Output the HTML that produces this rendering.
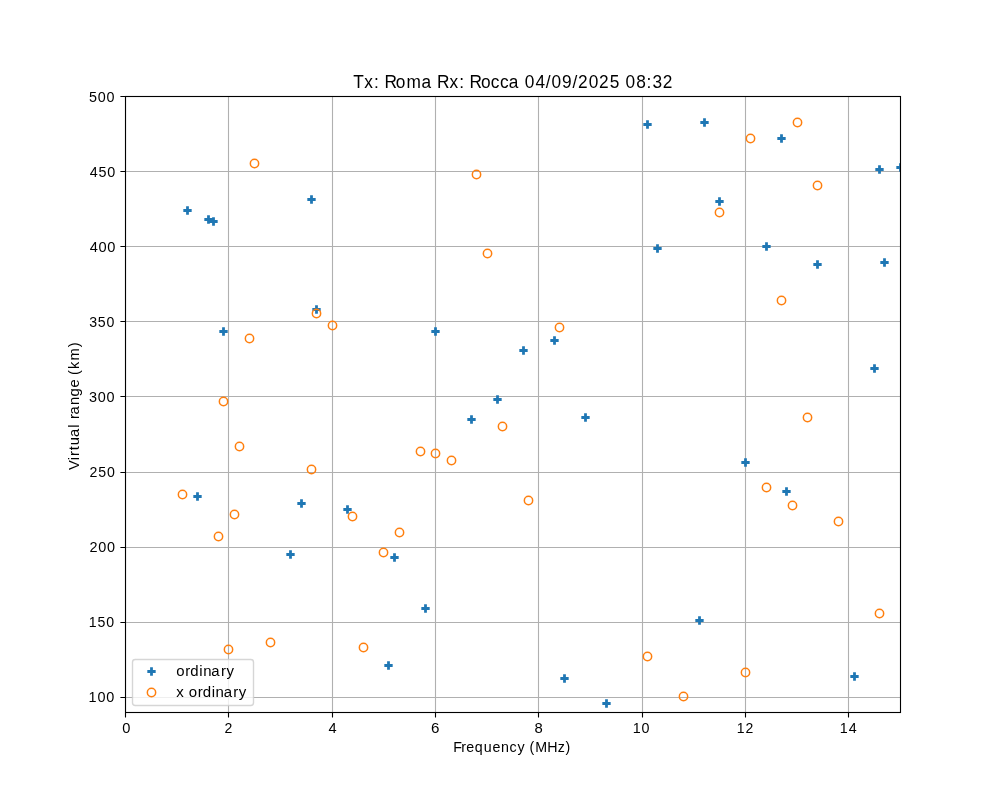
<!DOCTYPE html><html><head><meta charset="utf-8"><style>html,body{margin:0;padding:0;background:#fff;overflow:hidden}svg{display:block;will-change:transform}</style></head><body>
<svg width="1000" height="800" viewBox="0 0 1000 800" font-family='"Liberation Sans", sans-serif' fill="#000">
<rect x="0" y="0" width="1000" height="800" fill="#fff"/>
<defs><clipPath id="ax"><rect x="125.0" y="96.0" width="775.0" height="616.0"/></clipPath></defs>
<path d="M125.5,96.0V712.0M228.5,96.0V712.0M332.5,96.0V712.0M435.5,96.0V712.0M538.5,96.0V712.0M642.5,96.0V712.0M745.5,96.0V712.0M848.5,96.0V712.0M125.0,697.5H900.0M125.0,622.5H900.0M125.0,547.5H900.0M125.0,472.5H900.0M125.0,396.5H900.0M125.0,321.5H900.0M125.0,246.5H900.0M125.0,171.5H900.0M125.0,96.5H900.0" stroke="#b0b0b0" stroke-width="1.11" fill="none" clip-path="url(#ax)"/>
<g clip-path="url(#ax)"><path d="M186.11,206.33 L188.89,206.33 L188.89,209.11 L191.67,209.11 L191.67,211.89 L188.89,211.89 L188.89,214.67 L186.11,214.67 L186.11,211.89 L183.33,211.89 L183.33,209.11 L186.11,209.11ZM207.11,215.33 L209.89,215.33 L209.89,218.11 L212.67,218.11 L212.67,220.89 L209.89,220.89 L209.89,223.67 L207.11,223.67 L207.11,220.89 L204.33,220.89 L204.33,218.11 L207.11,218.11ZM212.11,217.33 L214.89,217.33 L214.89,220.11 L217.67,220.11 L217.67,222.89 L214.89,222.89 L214.89,225.67 L212.11,225.67 L212.11,222.89 L209.33,222.89 L209.33,220.11 L212.11,220.11ZM310.11,195.33 L312.89,195.33 L312.89,198.11 L315.67,198.11 L315.67,200.89 L312.89,200.89 L312.89,203.67 L310.11,203.67 L310.11,200.89 L307.33,200.89 L307.33,198.11 L310.11,198.11ZM315.11,305.33 L317.89,305.33 L317.89,308.11 L320.67,308.11 L320.67,310.89 L317.89,310.89 L317.89,313.67 L315.11,313.67 L315.11,310.89 L312.33,310.89 L312.33,308.11 L315.11,308.11ZM222.11,327.33 L224.89,327.33 L224.89,330.11 L227.67,330.11 L227.67,332.89 L224.89,332.89 L224.89,335.67 L222.11,335.67 L222.11,332.89 L219.33,332.89 L219.33,330.11 L222.11,330.11ZM196.11,492.33 L198.89,492.33 L198.89,495.11 L201.67,495.11 L201.67,497.89 L198.89,497.89 L198.89,500.67 L196.11,500.67 L196.11,497.89 L193.33,497.89 L193.33,495.11 L196.11,495.11ZM300.11,499.33 L302.89,499.33 L302.89,502.11 L305.67,502.11 L305.67,504.89 L302.89,504.89 L302.89,507.67 L300.11,507.67 L300.11,504.89 L297.33,504.89 L297.33,502.11 L300.11,502.11ZM289.11,550.33 L291.89,550.33 L291.89,553.11 L294.67,553.11 L294.67,555.89 L291.89,555.89 L291.89,558.67 L289.11,558.67 L289.11,555.89 L286.33,555.89 L286.33,553.11 L289.11,553.11ZM434.11,327.33 L436.89,327.33 L436.89,330.11 L439.67,330.11 L439.67,332.89 L436.89,332.89 L436.89,335.67 L434.11,335.67 L434.11,332.89 L431.33,332.89 L431.33,330.11 L434.11,330.11ZM496.11,395.33 L498.89,395.33 L498.89,398.11 L501.67,398.11 L501.67,400.89 L498.89,400.89 L498.89,403.67 L496.11,403.67 L496.11,400.89 L493.33,400.89 L493.33,398.11 L496.11,398.11ZM470.11,415.33 L472.89,415.33 L472.89,418.11 L475.67,418.11 L475.67,420.89 L472.89,420.89 L472.89,423.67 L470.11,423.67 L470.11,420.89 L467.33,420.89 L467.33,418.11 L470.11,418.11ZM346.11,505.33 L348.89,505.33 L348.89,508.11 L351.67,508.11 L351.67,510.89 L348.89,510.89 L348.89,513.67 L346.11,513.67 L346.11,510.89 L343.33,510.89 L343.33,508.11 L346.11,508.11ZM393.11,553.33 L395.89,553.33 L395.89,556.11 L398.67,556.11 L398.67,558.89 L395.89,558.89 L395.89,561.67 L393.11,561.67 L393.11,558.89 L390.33,558.89 L390.33,556.11 L393.11,556.11ZM424.11,604.33 L426.89,604.33 L426.89,607.11 L429.67,607.11 L429.67,609.89 L426.89,609.89 L426.89,612.67 L424.11,612.67 L424.11,609.89 L421.33,609.89 L421.33,607.11 L424.11,607.11ZM387.11,661.33 L389.89,661.33 L389.89,664.11 L392.67,664.11 L392.67,666.89 L389.89,666.89 L389.89,669.67 L387.11,669.67 L387.11,666.89 L384.33,666.89 L384.33,664.11 L387.11,664.11ZM646.11,120.33 L648.89,120.33 L648.89,123.11 L651.67,123.11 L651.67,125.89 L648.89,125.89 L648.89,128.67 L646.11,128.67 L646.11,125.89 L643.33,125.89 L643.33,123.11 L646.11,123.11ZM656.11,244.33 L658.89,244.33 L658.89,247.11 L661.67,247.11 L661.67,249.89 L658.89,249.89 L658.89,252.67 L656.11,252.67 L656.11,249.89 L653.33,249.89 L653.33,247.11 L656.11,247.11ZM553.11,336.33 L555.89,336.33 L555.89,339.11 L558.67,339.11 L558.67,341.89 L555.89,341.89 L555.89,344.67 L553.11,344.67 L553.11,341.89 L550.33,341.89 L550.33,339.11 L553.11,339.11ZM522.11,346.33 L524.89,346.33 L524.89,349.11 L527.67,349.11 L527.67,351.89 L524.89,351.89 L524.89,354.67 L522.11,354.67 L522.11,351.89 L519.33,351.89 L519.33,349.11 L522.11,349.11ZM584.11,413.33 L586.89,413.33 L586.89,416.11 L589.67,416.11 L589.67,418.89 L586.89,418.89 L586.89,421.67 L584.11,421.67 L584.11,418.89 L581.33,418.89 L581.33,416.11 L584.11,416.11ZM563.11,674.33 L565.89,674.33 L565.89,677.11 L568.67,677.11 L568.67,679.89 L565.89,679.89 L565.89,682.67 L563.11,682.67 L563.11,679.89 L560.33,679.89 L560.33,677.11 L563.11,677.11ZM605.11,699.33 L607.89,699.33 L607.89,702.11 L610.67,702.11 L610.67,704.89 L607.89,704.89 L607.89,707.67 L605.11,707.67 L605.11,704.89 L602.33,704.89 L602.33,702.11 L605.11,702.11ZM698.11,616.33 L700.89,616.33 L700.89,619.11 L703.67,619.11 L703.67,621.89 L700.89,621.89 L700.89,624.67 L698.11,624.67 L698.11,621.89 L695.33,621.89 L695.33,619.11 L698.11,619.11ZM703.11,118.33 L705.89,118.33 L705.89,121.11 L708.67,121.11 L708.67,123.89 L705.89,123.89 L705.89,126.67 L703.11,126.67 L703.11,123.89 L700.33,123.89 L700.33,121.11 L703.11,121.11ZM780.11,134.33 L782.89,134.33 L782.89,137.11 L785.67,137.11 L785.67,139.89 L782.89,139.89 L782.89,142.67 L780.11,142.67 L780.11,139.89 L777.33,139.89 L777.33,137.11 L780.11,137.11ZM878.11,165.33 L880.89,165.33 L880.89,168.11 L883.67,168.11 L883.67,170.89 L880.89,170.89 L880.89,173.67 L878.11,173.67 L878.11,170.89 L875.33,170.89 L875.33,168.11 L878.11,168.11ZM899.11,163.33 L901.89,163.33 L901.89,166.11 L904.67,166.11 L904.67,168.89 L901.89,168.89 L901.89,171.67 L899.11,171.67 L899.11,168.89 L896.33,168.89 L896.33,166.11 L899.11,166.11ZM718.11,197.33 L720.89,197.33 L720.89,200.11 L723.67,200.11 L723.67,202.89 L720.89,202.89 L720.89,205.67 L718.11,205.67 L718.11,202.89 L715.33,202.89 L715.33,200.11 L718.11,200.11ZM765.11,242.33 L767.89,242.33 L767.89,245.11 L770.67,245.11 L770.67,247.89 L767.89,247.89 L767.89,250.67 L765.11,250.67 L765.11,247.89 L762.33,247.89 L762.33,245.11 L765.11,245.11ZM816.11,260.33 L818.89,260.33 L818.89,263.11 L821.67,263.11 L821.67,265.89 L818.89,265.89 L818.89,268.67 L816.11,268.67 L816.11,265.89 L813.33,265.89 L813.33,263.11 L816.11,263.11ZM883.11,258.33 L885.89,258.33 L885.89,261.11 L888.67,261.11 L888.67,263.89 L885.89,263.89 L885.89,266.67 L883.11,266.67 L883.11,263.89 L880.33,263.89 L880.33,261.11 L883.11,261.11ZM873.11,364.33 L875.89,364.33 L875.89,367.11 L878.67,367.11 L878.67,369.89 L875.89,369.89 L875.89,372.67 L873.11,372.67 L873.11,369.89 L870.33,369.89 L870.33,367.11 L873.11,367.11ZM744.11,458.33 L746.89,458.33 L746.89,461.11 L749.67,461.11 L749.67,463.89 L746.89,463.89 L746.89,466.67 L744.11,466.67 L744.11,463.89 L741.33,463.89 L741.33,461.11 L744.11,461.11ZM785.11,487.33 L787.89,487.33 L787.89,490.11 L790.67,490.11 L790.67,492.89 L787.89,492.89 L787.89,495.67 L785.11,495.67 L785.11,492.89 L782.33,492.89 L782.33,490.11 L785.11,490.11ZM853.11,672.33 L855.89,672.33 L855.89,675.11 L858.67,675.11 L858.67,677.89 L855.89,677.89 L855.89,680.67 L853.11,680.67 L853.11,677.89 L850.33,677.89 L850.33,675.11 L853.11,675.11Z" fill="#1f77b4"/>
<circle cx="254.5" cy="163.5" r="4.167" fill="none" stroke="#ff7f0e" stroke-width="1.5"/>
<circle cx="316.5" cy="313.5" r="4.167" fill="none" stroke="#ff7f0e" stroke-width="1.5"/>
<circle cx="249.5" cy="338.5" r="4.167" fill="none" stroke="#ff7f0e" stroke-width="1.5"/>
<circle cx="223.5" cy="401.5" r="4.167" fill="none" stroke="#ff7f0e" stroke-width="1.5"/>
<circle cx="239.5" cy="446.5" r="4.167" fill="none" stroke="#ff7f0e" stroke-width="1.5"/>
<circle cx="311.5" cy="469.5" r="4.167" fill="none" stroke="#ff7f0e" stroke-width="1.5"/>
<circle cx="182.5" cy="494.5" r="4.167" fill="none" stroke="#ff7f0e" stroke-width="1.5"/>
<circle cx="234.5" cy="514.5" r="4.167" fill="none" stroke="#ff7f0e" stroke-width="1.5"/>
<circle cx="218.5" cy="536.5" r="4.167" fill="none" stroke="#ff7f0e" stroke-width="1.5"/>
<circle cx="270.5" cy="642.5" r="4.167" fill="none" stroke="#ff7f0e" stroke-width="1.5"/>
<circle cx="228.5" cy="649.5" r="4.167" fill="none" stroke="#ff7f0e" stroke-width="1.5"/>
<circle cx="476.5" cy="174.5" r="4.167" fill="none" stroke="#ff7f0e" stroke-width="1.5"/>
<circle cx="332.5" cy="325.5" r="4.167" fill="none" stroke="#ff7f0e" stroke-width="1.5"/>
<circle cx="487.5" cy="253.5" r="4.167" fill="none" stroke="#ff7f0e" stroke-width="1.5"/>
<circle cx="502.5" cy="426.5" r="4.167" fill="none" stroke="#ff7f0e" stroke-width="1.5"/>
<circle cx="420.5" cy="451.5" r="4.167" fill="none" stroke="#ff7f0e" stroke-width="1.5"/>
<circle cx="435.5" cy="453.5" r="4.167" fill="none" stroke="#ff7f0e" stroke-width="1.5"/>
<circle cx="451.5" cy="460.5" r="4.167" fill="none" stroke="#ff7f0e" stroke-width="1.5"/>
<circle cx="352.5" cy="516.5" r="4.167" fill="none" stroke="#ff7f0e" stroke-width="1.5"/>
<circle cx="399.5" cy="532.5" r="4.167" fill="none" stroke="#ff7f0e" stroke-width="1.5"/>
<circle cx="383.5" cy="552.5" r="4.167" fill="none" stroke="#ff7f0e" stroke-width="1.5"/>
<circle cx="363.5" cy="647.5" r="4.167" fill="none" stroke="#ff7f0e" stroke-width="1.5"/>
<circle cx="559.5" cy="327.5" r="4.167" fill="none" stroke="#ff7f0e" stroke-width="1.5"/>
<circle cx="528.5" cy="500.5" r="4.167" fill="none" stroke="#ff7f0e" stroke-width="1.5"/>
<circle cx="647.5" cy="656.5" r="4.167" fill="none" stroke="#ff7f0e" stroke-width="1.5"/>
<circle cx="683.5" cy="696.5" r="4.167" fill="none" stroke="#ff7f0e" stroke-width="1.5"/>
<circle cx="797.5" cy="122.5" r="4.167" fill="none" stroke="#ff7f0e" stroke-width="1.5"/>
<circle cx="750.5" cy="138.5" r="4.167" fill="none" stroke="#ff7f0e" stroke-width="1.5"/>
<circle cx="817.5" cy="185.5" r="4.167" fill="none" stroke="#ff7f0e" stroke-width="1.5"/>
<circle cx="719.5" cy="212.5" r="4.167" fill="none" stroke="#ff7f0e" stroke-width="1.5"/>
<circle cx="781.5" cy="300.5" r="4.167" fill="none" stroke="#ff7f0e" stroke-width="1.5"/>
<circle cx="807.5" cy="417.5" r="4.167" fill="none" stroke="#ff7f0e" stroke-width="1.5"/>
<circle cx="766.5" cy="487.5" r="4.167" fill="none" stroke="#ff7f0e" stroke-width="1.5"/>
<circle cx="792.5" cy="505.5" r="4.167" fill="none" stroke="#ff7f0e" stroke-width="1.5"/>
<circle cx="838.5" cy="521.5" r="4.167" fill="none" stroke="#ff7f0e" stroke-width="1.5"/>
<circle cx="745.5" cy="672.5" r="4.167" fill="none" stroke="#ff7f0e" stroke-width="1.5"/>
<circle cx="879.5" cy="613.5" r="4.167" fill="none" stroke="#ff7f0e" stroke-width="1.5"/>
</g>
<rect x="125.5" y="96.5" width="775.0" height="616.0" fill="none" stroke="#000" stroke-width="1.11"/>
<path d="M125.5,712.5v5.1M228.5,712.5v5.1M332.5,712.5v5.1M435.5,712.5v5.1M538.5,712.5v5.1M642.5,712.5v5.1M745.5,712.5v5.1M848.5,712.5v5.1M125.5,697.5h-5.1M125.5,622.5h-5.1M125.5,547.5h-5.1M125.5,472.5h-5.1M125.5,396.5h-5.1M125.5,321.5h-5.1M125.5,246.5h-5.1M125.5,171.5h-5.1M125.5,96.5h-5.1" stroke="#000" stroke-width="1.11" fill="none"/>
<text transform="translate(121.88,733.00) scale(0.9873,1)" x="0.34" y="0" font-size="14.833">0</text>
<text transform="translate(224.08,733.00) scale(0.9486,1)" x="0.34" y="0" font-size="14.833">2</text>
<text transform="translate(328.07,733.00) scale(0.9883,1)" x="0.35" y="0" font-size="14.833">4</text>
<text transform="translate(430.89,733.00) scale(1.0214,1)" x="0.21" y="0" font-size="14.833">6</text>
<text transform="translate(534.16,733.00) scale(1.0003,1)" x="0.29" y="0" font-size="14.833">8</text>
<text transform="translate(632.34,733.00) scale(0.9651,1)" x="0.37 9.63" y="0" font-size="14.833">10</text>
<text transform="translate(736.35,733.00) scale(0.9448,1)" x="0.48 9.75" y="0" font-size="14.833">12</text>
<text transform="translate(839.33,733.00) scale(0.9663,1)" x="0.37 9.63" y="0" font-size="14.833">14</text>
<text transform="translate(88.16,702.00) scale(0.9727,1)" x="0.34 9.53 18.52" y="0" font-size="14.833">100</text>
<text transform="translate(88.27,627.00) scale(0.9526,1)" x="0.44 9.77 19.00" y="0" font-size="14.833">150</text>
<text transform="translate(89.21,552.00) scale(0.9748,1)" x="0.22 9.37 18.35" y="0" font-size="14.833">200</text>
<text transform="translate(89.13,477.00) scale(0.9549,1)" x="0.31 9.61 18.81" y="0" font-size="14.833">250</text>
<text transform="translate(88.55,402.00) scale(0.9743,1)" x="0.43 9.38 18.36" y="0" font-size="14.833">300</text>
<text transform="translate(88.66,327.00) scale(0.9547,1)" x="0.52 9.61 18.82" y="0" font-size="14.833">350</text>
<text transform="translate(89.51,252.00) scale(0.9876,1)" x="0.35 9.19 18.05" y="0" font-size="14.833">400</text>
<text transform="translate(89.45,177.00) scale(0.9685,1)" x="0.44 9.41 18.49" y="0" font-size="14.833">450</text>
<text transform="translate(88.59,102.00) scale(0.9678,1)" x="0.38 9.47 18.51" y="0" font-size="14.833">500</text>
<text transform="translate(353.53,88.05) scale(0.9783,1)" x="-0.18 11.07 20.99 26.45 31.63 43.25 54.26 69.57 80.24 85.42 98.08 108.01 113.46 118.64 130.26 140.37 149.69 158.62 169.30 175.15 185.90 196.53 202.37 213.08 223.75 229.38 240.44 250.97 261.98 272.28 278.13 288.88 299.53 305.51 316.13" y="0" font-size="17.667">Tx: Roma Rx: Rocca 04/09/2025 08:32</text>
<text transform="translate(453.51,752.33) scale(0.9872,1)" x="-0.38 7.86 13.01 21.64 30.67 39.47 48.19 56.70 64.88 72.68 77.10 82.75 94.92 105.50 113.53" y="0" font-size="14.445">Frequency (MHz)</text>
<g transform="translate(79.08,406.10) rotate(-90)"><text transform="translate(-63.69,0.00) scale(1.0175,1)" x="-0.14 9.40 13.57 19.17 24.23 32.21 41.31 44.84 49.81 54.45 63.59 72.11 80.81 88.95 93.15 99.09 107.30 120.53" y="0" font-size="14.445">Virtual range (km)</text></g>
<rect x="132.5" y="659.5" width="121" height="46" rx="2.78" fill="#fff" fill-opacity="0.8" stroke="#cccccc" stroke-opacity="0.8" stroke-width="1.39"/>
<path d="M150.11,667.33 L152.89,667.33 L152.89,670.11 L155.67,670.11 L155.67,672.89 L152.89,672.89 L152.89,675.67 L150.11,675.67 L150.11,672.89 L147.33,672.89 L147.33,670.11 L150.11,670.11Z" fill="#1f77b4"/>
<circle cx="151.5" cy="692.5" r="4.167" fill="none" stroke="#ff7f0e" stroke-width="1.5"/>
<text transform="translate(176.16,675.70) scale(1.0366,1)" x="0.10 8.80 13.67 22.34 26.05 33.83 43.17 48.47" y="0" font-size="14.445">ordinary</text>
<text transform="translate(176.01,697.41) scale(1.0408,1)" x="0.31 7.93 12.21 20.89 25.73 34.38 38.06 45.80 55.12 60.39" y="0" font-size="14.445">x ordinary</text>
</svg></body></html>
